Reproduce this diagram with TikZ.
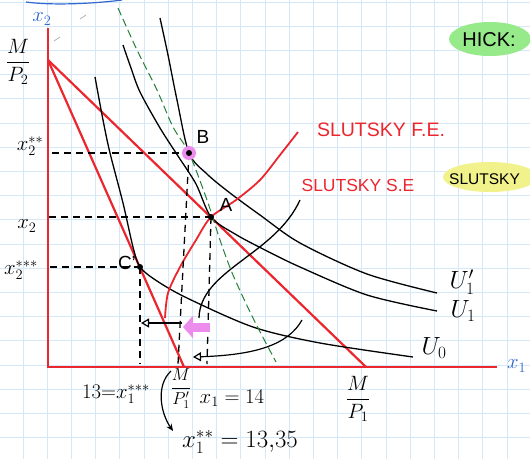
\documentclass[tikz,border=0pt]{standalone}
\usepackage{fontspec}
\setsansfont{Liberation Sans}
\usepackage{amsmath}
\usetikzlibrary{arrows.meta,positioning,calc}

\definecolor{penred}{RGB}{236,38,46}
\definecolor{penblue}{RGB}{52,104,205}
\definecolor{pengreen}{RGB}{38,128,56}
\definecolor{gridblue}{RGB}{212,232,248}
\definecolor{hlgreen}{RGB}{150,234,138}
\definecolor{hlyellow}{RGB}{242,242,140}
\definecolor{hlpink}{RGB}{236,140,236}

\begin{document}
\begin{tikzpicture}[x=1pt, y=-1pt,
    budget/.style={penred, line width=2.2pt},
    icurve/.style={black, line width=1.3pt},
    guide/.style={black, line width=1.3pt, dash pattern=on 7pt off 5pt},
    compline/.style={pengreen, line width=1pt, dash pattern=on 8pt off 4pt},
    gridline/.style={gridblue, line width=0.9pt},
    dot/.style={circle, fill=black, inner sep=0pt, minimum size=6pt},
    hand/.style={font=\sffamily\fontsize{19}{21}\selectfont, inner sep=1pt},
    redhand/.style={hand, text=penred},
    mathlbl/.style={font=\fontsize{22}{24}\selectfont, inner sep=1pt},
    fraclbl/.style={font=\fontsize{19.5}{21}\selectfont, inner sep=1pt},
    effect/.style={-{Triangle[open, length=8pt, width=9pt]}, line width=1.2pt},
  ]
  % paper
  \fill[white] (0,0) rectangle (530,459);
  \useasboundingbox (0,0) rectangle (530,459);
  \foreach \k in {1,...,21} \draw[gridline] ({24.2*\k-1.2},0) -- ++(0,459);
  \foreach \k in {0,...,18} \draw[gridline] (0,{24.2*\k+2}) -- ++(530,0);

  % highlighter marks
  \fill[hlgreen] (490,39) ellipse [x radius=41, y radius=17];
  \fill[hlyellow] (490,177) ellipse [x radius=47, y radius=15];
  \node[hand, font=\sffamily\fontsize{20}{22}\selectfont] (hick) at (489,40) {HICK:};
  \node[hand, font=\sffamily\fontsize{15.5}{18}\selectfont, anchor=west] (slutsky) at (448,179) {SLUTSKY};

  % stray strokes
  \draw[penblue, line width=1.2pt] (26,2) .. controls (55,6) and (100,3) .. (122,0);
  \draw[gray!60, line width=0.8pt] (80,19) -- (86,15);
  \draw[gray!60, line width=0.8pt] (54,41) -- (60,37);

  % axes
  \coordinate (O) at (48,367);
  \coordinate (ytop) at (48,28);
  \coordinate (xend) at (497,367);
  \draw[budget] (ytop) -- (O) -- (xend);
  \node[mathlbl, text=penblue] (x2ax) at (42,19) {$x_2$};
  \node[mathlbl, text=penblue, anchor=west] (x1ax) at (506,366) {$x_1$};

  % budget lines
  \coordinate (MP2) at (48,60);
  \coordinate (MP1) at (366,367);
  \coordinate (MP1new) at (184,367);
  \draw[budget] (MP2) -- (MP1);
  \draw[budget] (MP2) -- (MP1new);
  \node[fraclbl] (MP2lbl) at (18,62) {$\dfrac{M}{P_2}$};
  \node[fraclbl] (MP1lbl) at (358,399) {$\dfrac{M}{P_1}$};

  % bundles
  \coordinate (A) at (211,217);
  \coordinate (B) at (189,153);
  \coordinate (C) at (140,267);

  % indifference curves
  \draw[icurve] plot[smooth] coordinates {(95,77) (103,120) (110,153) (123,203) (133,247) (C) (157,281) (187,298) (253,327) (320,343) (413,357)};
  \draw[icurve] plot[smooth] coordinates {(123,45) (131,68) (140,92) (160,128) (178,156) (196,184) (A) (235,234) (265,250) (300,267) (367,295) (437,311)};
  \draw[icurve] plot[smooth] coordinates {(160,18) (168,55) (177,100) (B) (207,174) (230,193) (260,215) (300,243) (367,274) (437,293)};
  \node[mathlbl, font=\fontsize{24}{26}\selectfont] (U1p) at (462,282) {$U_1'$};
  \node[mathlbl, font=\fontsize{24}{26}\selectfont] (U1) at (463,311) {$U_1$};
  \node[mathlbl, font=\fontsize{24}{26}\selectfont] (U0) at (434,348) {$U_0$};

  % compensated line and Slutsky path
  \draw[compline] plot[smooth] coordinates {(118,8) (137,50) (157,90) (173,127) (B) (207,200) (220,240) (233,275) (253,318) (276,362)};
  \draw[penred, line width=1.8pt] plot[smooth] coordinates {(298,132) (280,155) (260,180) (236,200) (A) (196,240) (180,267) (168,293) (165,318)};

  % guides to the axes
  \draw[guide] (52,153) -- (B);
  \draw[guide] (49,217) -- (A);
  \draw[guide] (50,267) -- (C);
  \draw[guide] (C) -- (140,364);
  \draw[guide] (B) -- (178,364);
  \draw[guide] (A) -- (207,364);
  \node[mathlbl] (x2ss) at (30,146) {$x_2^{**}$};
  \node[mathlbl] (x2lbl) at (27,226) {$x_2$};
  \node[mathlbl] (x2sss) at (21,270) {$x_2^{***}$};

  % points
  \fill[hlpink] (B) circle[radius=7];
  \node[dot] (Bdot) at (B) {};
  \node[dot] (Adot) at (A) {};
  \node[dot] (Cdot) at (C) {};
  \node[hand] (Blbl) at (203,137) {B};
  \node[hand] (Albl) at (226,205) {A};
  \node[hand] (Clbl) at (127,263) {C'};

  % effects
  \coordinate (SEtail) at (300,200);
  \coordinate (SEtip) at (199,318);
  \coordinate (FEtail) at (302,320);
  \coordinate (FEtip) at (193,357);
  \draw[hlpink, line width=9pt, -{Triangle[length=10pt, width=22pt]}] (210,327) -- (183,327);
  \draw[effect] (182,323) -- (141,323);
  \draw[icurve] (SEtail) .. controls (275,255) and (200,270) .. (SEtip);
  \draw[effect] (FEtail) .. controls (288,345) and (255,355) .. (FEtip);
  \node[redhand, font=\sffamily\fontsize{19.5}{21}\selectfont] (FElbl) at (381,130) {SLUTSKY F.E.};
  \node[redhand, font=\sffamily\fontsize{17.5}{20}\selectfont] (SElbl) at (358,185) {SLUTSKY S.E};

  % values on the x1 axis
  \node[mathlbl] (x1sss) at (116,394) {$13{=}x_1^{***}$};
  \node[fraclbl, font=\fontsize{17}{19}\selectfont] (MP1p) at (181,389) {$\dfrac{M}{P_1'}$};
  \node[mathlbl] (x1eq) at (232,398) {$x_1=14$};
  \node[mathlbl, font=\fontsize{24}{26}\selectfont] (x1ss) at (240,442) {$x_1^{**}=13{,}35$};
  \coordinate (parTop) at (171,371);
  \coordinate (parEnd) at (173,431);
  \draw[line width=1.2pt, -{Stealth[length=7pt, width=6pt]}] (parTop) .. controls (156,385) and (160,412) .. (parEnd);
\end{tikzpicture}
\end{document}
